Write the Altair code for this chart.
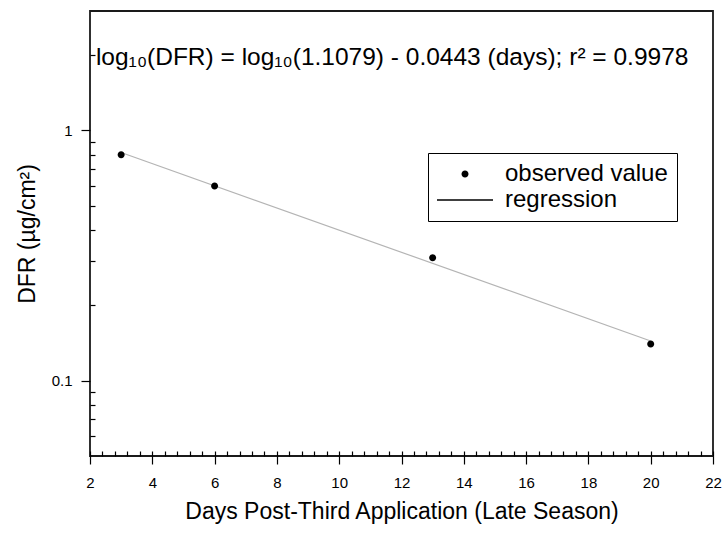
import altair as alt
import pandas as pd

# Observed dislodgeable foliar residue after the third application
days = [3, 6, 13, 20]
dfr = [0.80, 0.60, 0.31, 0.14]

# First-order decline fit: log10(DFR) = log10(1.1079) - 0.0443 * days
fit_intercept = 1.1079
fit_slope = -0.0443
fit_r2 = 0.9978
fit_days = [3, 20]
fit_dfr = [fit_intercept * 10 ** (fit_slope * d) for d in fit_days]

series_names = ["observed value", "regression"]
equation = "log\u2081\u2080(DFR) = log\u2081\u2080(1.1079) - 0.0443 (days); r\u00b2 = 0.9978"

x_major = list(range(2, 23, 2))
x_minor = [round(2 + 0.4 * i, 1) for i in range(51)]
y_major = [0.1, 1]
y_minor = [0.06, 0.07, 0.08, 0.09, 0.2, 0.3, 0.4, 0.5, 0.6, 0.7, 0.8, 0.9, 2]

FONT = "Liberation Sans"
W, H = 623, 445

obs = pd.DataFrame({"days": days, "dfr": dfr, "series": series_names[0]})
fit = pd.DataFrame({"days": fit_days, "dfr": fit_dfr})
note = pd.DataFrame({"days": [2.19], "dfr": [1.95], "label": [equation]})

x_scale = alt.Scale(domain=[2, 22], nice=False, zero=False)
y_scale = alt.Scale(type="log", domain=[0.05, 3], nice=False)

# symbol paths (unit coordinates, scaled by the mark size)
dot_path = "M-0.44,0A0.44,0.44,0,1,1,0.44,0A0.44,0.44,0,1,1,-0.44,0Z"
bar_path = "M-3.5,-0.09H3.5V0.09H-3.5Z"

points = alt.Chart(obs).mark_point(filled=True, size=256, opacity=1, color="black").encode(
    x=alt.X("days:Q", scale=x_scale,
            axis=alt.Axis(values=x_major, format="d", title="Days Post-Third Application (Late Season)",
                          tickSize=8, tickColor="black", tickWidth=1.2, domain=False, grid=False,
                          labelFontSize=15, labelFont=FONT, labelColor="black", labelPadding=11,
                          labelFlush=False,
                          titleFontSize=23, titleFont=FONT, titleFontWeight="normal",
                          titleColor="black", titlePadding=10)),
    y=alt.Y("dfr:Q", scale=y_scale,
            axis=alt.Axis(values=y_major, format="~g", title="DFR (\u00b5g/cm\u00b2)",
                          tickSize=9, tickColor="black", tickWidth=1.2, domain=False, grid=False,
                          labelFontSize=15, labelFont=FONT, labelColor="black", labelPadding=9,
                          titleFontSize=23, titleFont=FONT, titleFontWeight="normal",
                          titleColor="black", titlePadding=12)),
    shape=alt.Shape("series:N",
                    scale=alt.Scale(domain=series_names, range=[dot_path, bar_path]),
                    legend=alt.Legend(title=None, orient="none", legendX=338, legendY=142,
                                      labelFontSize=24, labelFont=FONT, labelColor="black",
                                      labelLimit=400, symbolSize=256, symbolOffset=16,
                                      labelOffset=28, rowPadding=2, padding=9,
                                      symbolFillColor="black", symbolStrokeWidth=0,
                                      strokeColor="black", fillColor="white")),
)

# fitted line; its axes carry the inward-pointing minor ticks
line = alt.Chart(fit).mark_line(color="#b4b4b4", strokeWidth=1.2).encode(
    x=alt.X("days:Q", scale=x_scale,
            axis=alt.Axis(orient="top", offset=-H, values=x_minor, labels=False, title=None,
                          tickSize=5, tickColor="black", tickWidth=1.2, domain=False, grid=False)),
    y=alt.Y("dfr:Q", scale=y_scale,
            axis=alt.Axis(orient="right", offset=-W, values=y_minor, labels=False, title=None,
                          tickSize=5, tickColor="black", tickWidth=1.2, domain=False, grid=False)),
)

text = alt.Chart(note).mark_text(align="left", baseline="middle", fontSize=24.5, font=FONT,
                                 color="black").encode(
    x=alt.X("days:Q", scale=x_scale, axis=None),
    y=alt.Y("dfr:Q", scale=y_scale, axis=None),
    text="label:N",
)

chart = (
    alt.layer(line, points, text)
    .resolve_axis(x="independent", y="independent")
    .properties(width=W, height=H, background="white",
                padding={"left": 90, "top": 11, "right": 11, "bottom": 77},
                autosize=alt.AutoSizeParams(type="none"))
    .configure_view(stroke="#1a1a1a", strokeWidth=1.8)
)

chart.save("out.html", embed_options={"renderer": "svg", "actions": False})
